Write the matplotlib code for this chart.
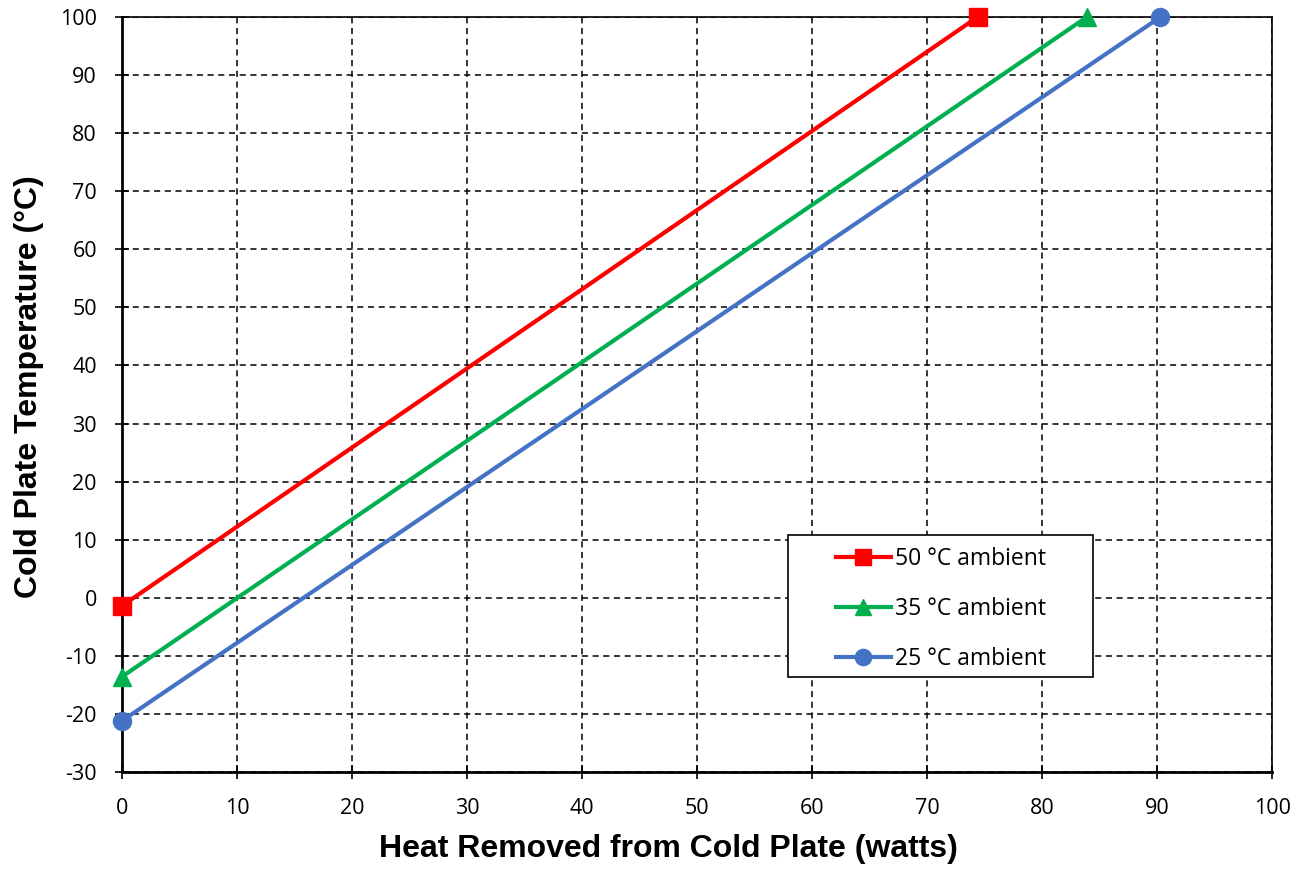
import matplotlib
matplotlib.use('Agg')
from matplotlib import pyplot as plt
from matplotlib.patches import Rectangle

plt.rcParams['axes.unicode_minus'] = False

# heat removed (watts) vs cold plate temperature (C), straight lines between end points
x_50 = [0, 74.4]
y_50 = [-1.4, 100]
x_35 = [0, 83.9]
y_35 = [-13.6, 100]
x_25 = [0, 90.3]
y_25 = [-21.2, 100]

labels = ['50 °C ambient', '35 °C ambient', '25 °C ambient']
colors = ['#ff0000', '#00b050', '#4472c4']
markers = ['s', '^', 'o']

x_ticks = list(range(0, 101, 10))
y_ticks = list(range(-30, 101, 10))

tick_font = 'Open Sans'
label_font = 'Liberation Sans'

fig = plt.figure(figsize=(13.02, 8.71), dpi=100)
ax = fig.add_axes([0.0937, 0.1137, 0.8833, 0.8668])

series = [(x_50, y_50), (x_35, y_35), (x_25, y_25)]
for (xs, ys), lab, c, m in zip(series, labels, colors, markers):
    ax.plot(xs, ys, color=c, lw=3, marker=m, markersize=13, label=lab,
            clip_on=False, zorder=5)

ax.set_xlim(0, 100)
ax.set_ylim(-30, 100)
ax.set_xticks(x_ticks)
ax.set_yticks(y_ticks)
ax.grid(True, color='black', linestyle=(0, (4, 3)), linewidth=1.1)
ax.tick_params(direction='inout', length=10, width=1.2, labelsize=15.5)
ax.tick_params(axis='x', pad=14)
ax.tick_params(axis='y', pad=13)
for lab in ax.get_xticklabels() + ax.get_yticklabels():
    lab.set_fontfamily(tick_font)

for side in ['left', 'bottom']:
    ax.spines[side].set_linewidth(2)
ax.spines['right'].set_linewidth(1.2)
ax.spines['top'].set_linewidth(1.2)

ax.set_xlabel('Heat Removed from Cold Plate (watts)', fontsize=23,
              fontweight='bold', family=label_font)
ax.set_ylabel('Cold Plate Temperature (°C)', fontsize=23,
              fontweight='bold', family=label_font)
# titles sit centred on the whole chart area rather than the plot area
ax.xaxis.set_label_coords(0.475, -0.082)
ax.yaxis.set_label_coords(-0.068, 0.51)

# legend box drawn separately so the inner padding can be wider than tall
ax.add_patch(Rectangle((0.579, 0.126), 0.265, 0.188, transform=ax.transAxes,
                       facecolor='white', edgecolor='black', lw=1.2, zorder=6))
leg = ax.legend(loc='center', bbox_to_anchor=(0.712, 0.216),
                prop={'family': tick_font, 'size': 16.5}, frameon=False,
                borderpad=0, borderaxespad=0, labelspacing=1.15,
                handlelength=2.4, handletextpad=0.17, markerscale=0.9)
leg.set_zorder(7)

fig.savefig('out.png', dpi=100)
